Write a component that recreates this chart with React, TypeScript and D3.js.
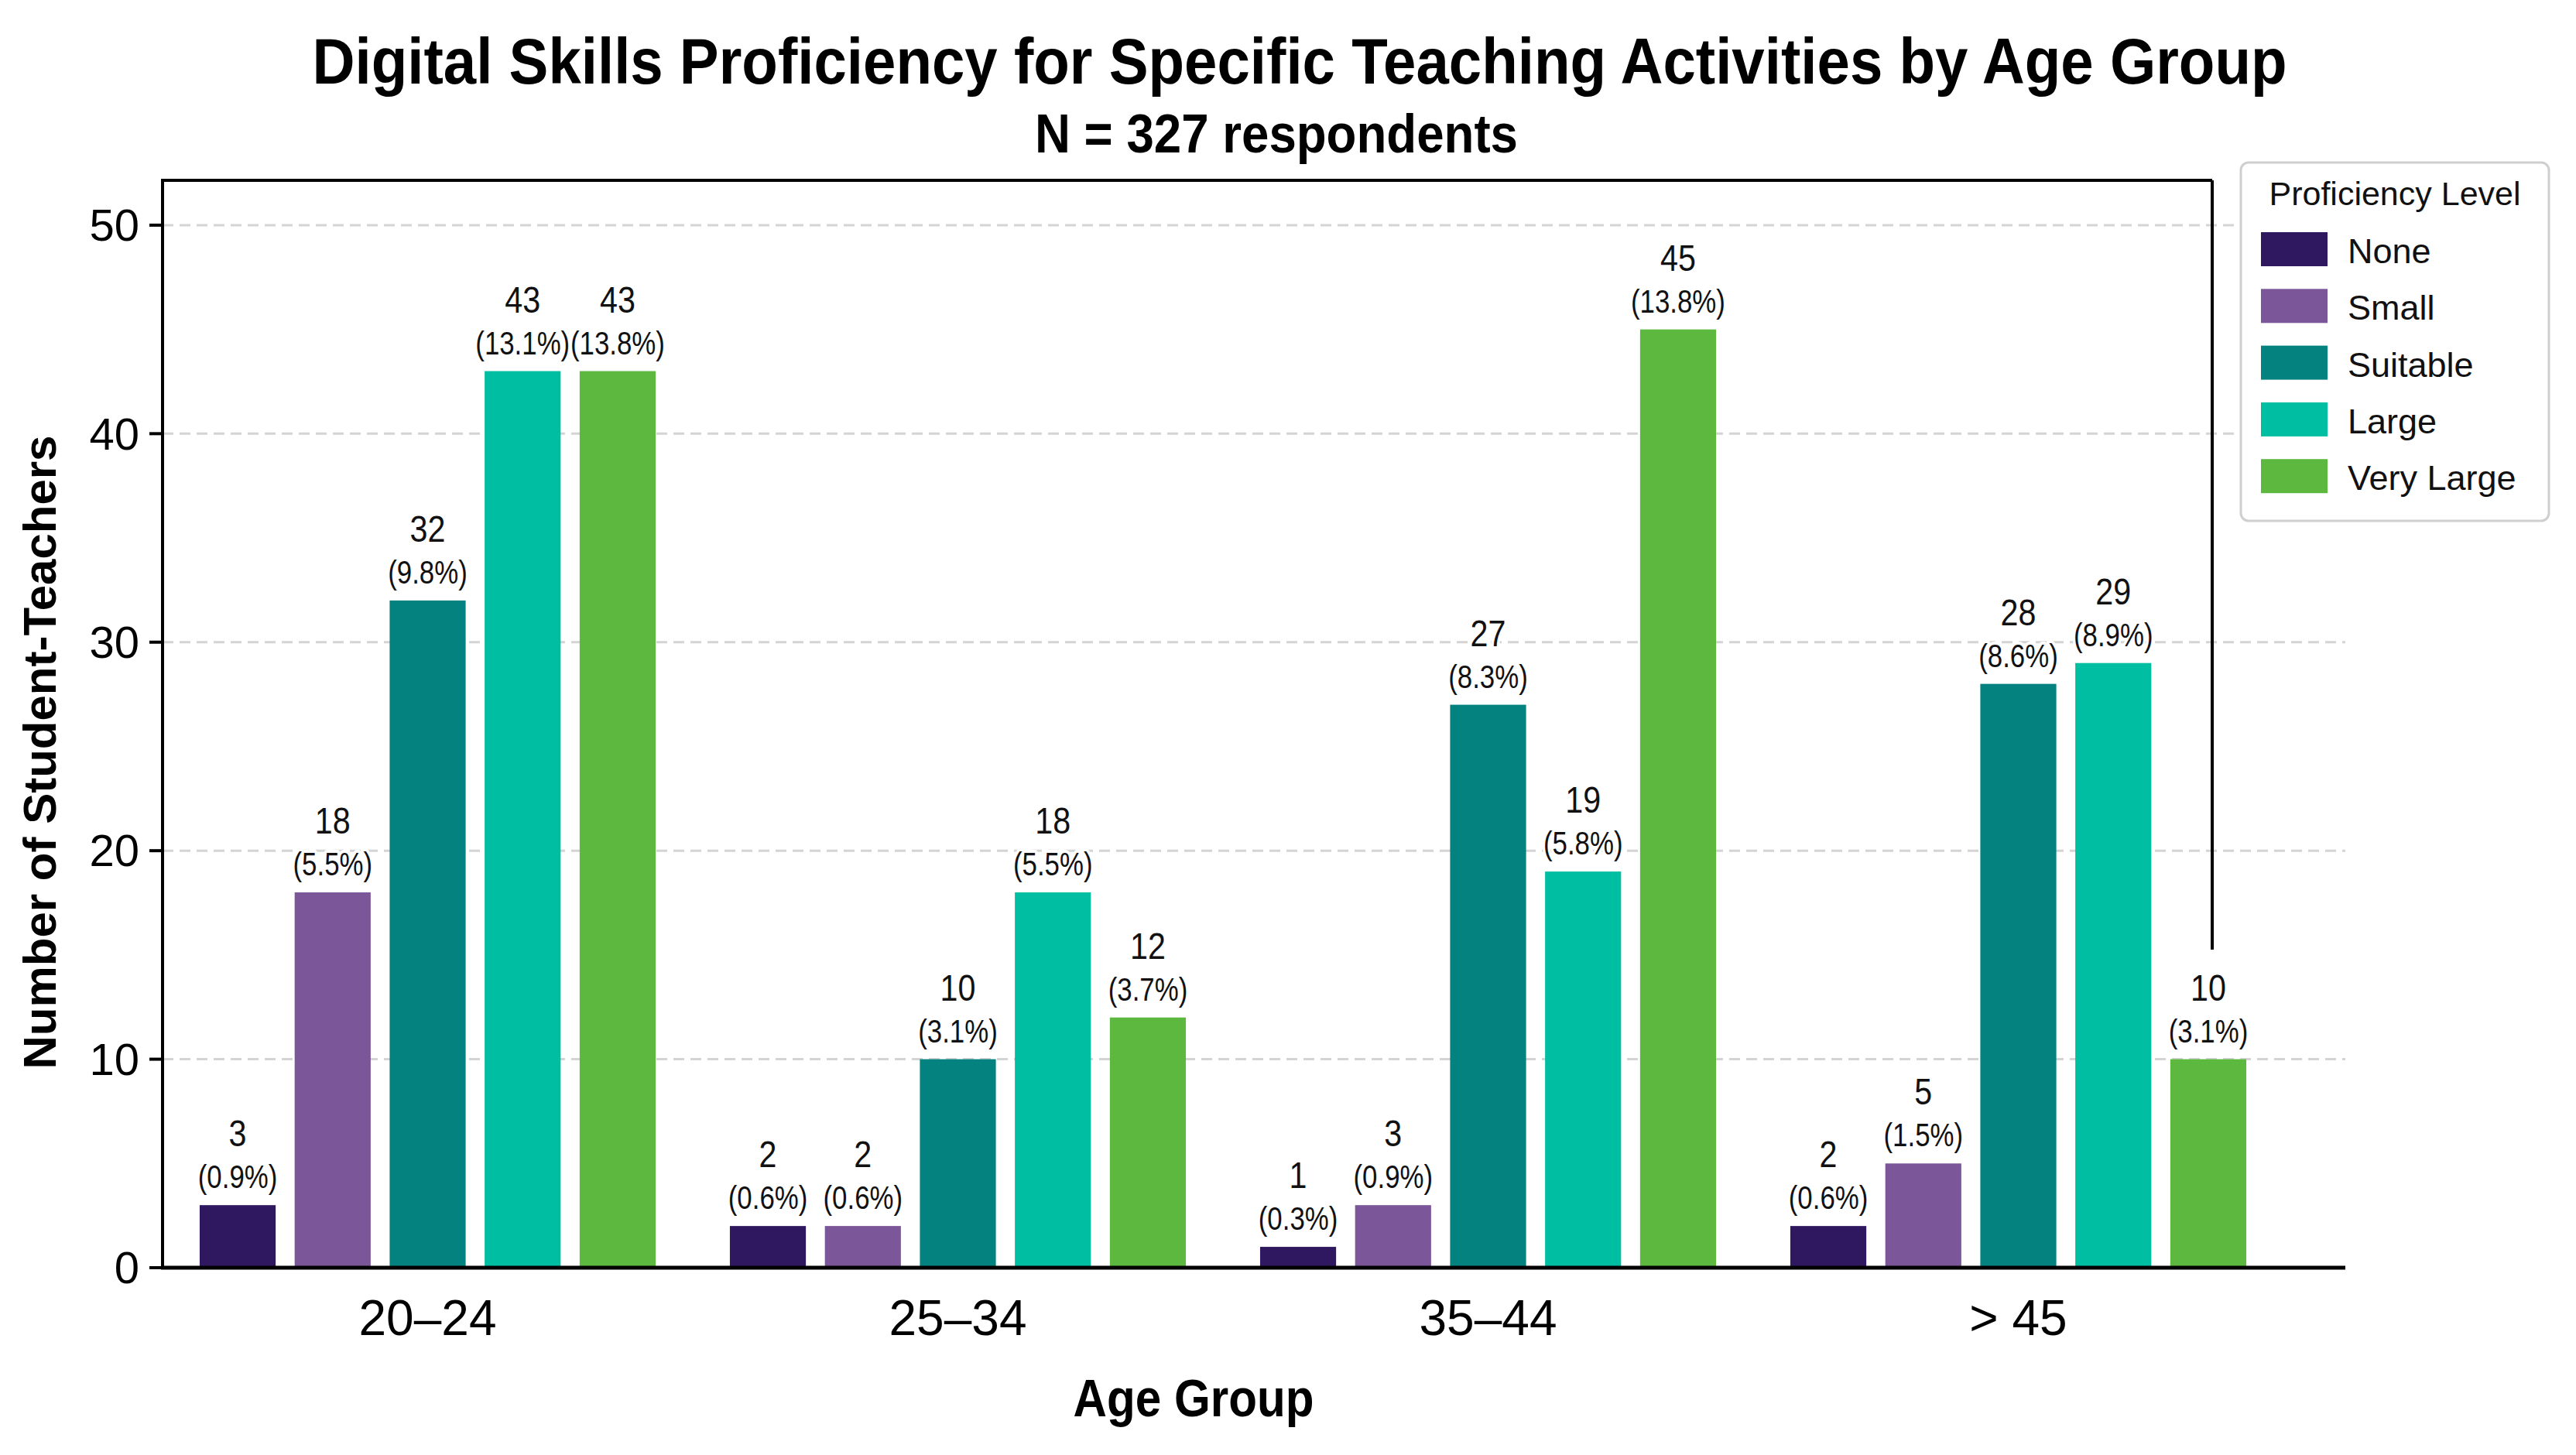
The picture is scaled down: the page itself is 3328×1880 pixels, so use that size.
import React from "react";
import * as d3 from "d3";

const ageGroups = ["20–24", "25–34", "35–44", "> 45"];
const levels = ["None", "Small", "Suitable", "Large", "Very Large"];
const levelColors = ["#301860", "#7b5698", "#03827f", "#00bea2", "#5cb83f"];

const countsNone = [3, 2, 1, 2];
const countsSmall = [18, 2, 3, 5];
const countsSuitable = [32, 10, 27, 28];
const countsLarge = [43, 18, 19, 29];
const countsVeryLarge = [43, 12, 45, 10];

const pctNone = [0.9, 0.6, 0.3, 0.6];
const pctSmall = [5.5, 0.6, 0.9, 1.5];
const pctSuitable = [9.8, 3.1, 8.3, 8.6];
const pctLarge = [13.1, 5.5, 5.8, 8.9];
const pctVeryLarge = [13.8, 3.7, 13.8, 3.1];

const yTicks = [0, 10, 20, 30, 40, 50];
const gridTicks = [10, 20, 30, 40, 50];

const titleText = "Digital Skills Proficiency for Specific Teaching Activities by Age Group";
const subtitleText = "N = 327 respondents";
const xTitle = "Age Group";
const yTitle = "Number of Student-Teachers";
const legendTitle = "Proficiency Level";

const counts = [countsNone, countsSmall, countsSuitable, countsLarge, countsVeryLarge];
const pcts = [pctNone, pctSmall, pctSuitable, pctLarge, pctVeryLarge];

const W = 3328;
const H = 1880;
const FONT = "'Liberation Sans', Arial, Helvetica, sans-serif";

export default function App() {
  const left = 210;
  const frameRight = 2858;
  const axisRight = 3030;
  const top = 233;
  const bottom = 1638;

  const y = d3.scaleLinear().domain([0, 52.15]).range([bottom, top]);
  const x0 = d3
    .scaleBand<string>()
    .domain(ageGroups)
    .range([left, 2950])
    .paddingInner(0.14)
    .paddingOuter(0.07);
  const x1 = d3
    .scaleBand<string>()
    .domain(levels)
    .range([0, x0.bandwidth()])
    .paddingInner(0.2);

  const color = d3.scaleOrdinal<string, string>().domain(levels).range(levelColors);

  const bars: { g: string; l: string; v: number; p: number }[] = [];
  ageGroups.forEach((g, gi) => {
    levels.forEach((l, li) => {
      bars.push({ g, l, v: counts[li][gi], p: pcts[li][gi] });
    });
  });

  const legX = 2895;
  const legY = 210;
  const legW = 398;
  const legH = 463;

  return (
    <svg
      width={W}
      height={H}
      viewBox={`0 0 ${W} ${H}`}
      style={{ position: "absolute", left: 0, top: 0, background: "#fff" }}
      fontFamily={FONT}
    >
      <rect x={0} y={0} width={W} height={H} fill="#fff" />
      {/* Title */}
      <text
        x={1679}
        y={108}
        textAnchor="middle"
        fontSize={84}
        fontWeight="bold"
        textLength={2551}
        lengthAdjust="spacingAndGlyphs"
        fill="#000"
      >
        {titleText}
      </text>
      <text
        x={1649}
        y={197}
        textAnchor="middle"
        fontSize={70}
        fontWeight="bold"
        textLength={624}
        lengthAdjust="spacingAndGlyphs"
        fill="#000"
      >
        {subtitleText}
      </text>

      {/* Gridlines */}
      {gridTicks.map((t) => (
        <line
          key={"g" + t}
          x1={left}
          x2={axisRight}
          y1={y(t)}
          y2={y(t)}
          stroke="#d4d4d4"
          strokeWidth={3}
          strokeDasharray="14 8"
        />
      ))}

      {/* Bars */}
      {bars.map((b, i) => {
        const bx = (x0(b.g) as number) + (x1(b.l) as number);
        return (
          <rect
            key={"b" + i}
            x={bx}
            y={y(b.v)}
            width={x1.bandwidth()}
            height={y(0) - y(b.v)}
            fill={color(b.l)}
          />
        );
      })}

      {/* Value labels */}
      {bars.map((b, i) => {
        const cx = (x0(b.g) as number) + (x1(b.l) as number) + x1.bandwidth() / 2;
        const ty = y(b.v);
        return (
          <g key={"l" + i} textAnchor="middle" fill="#111">
            <text
              transform={`translate(${cx}, ${ty - 76}) scale(0.86, 1)`}
              fontSize={48}
              stroke="#fff"
              strokeWidth={8}
              paintOrder="stroke"
              strokeLinejoin="round"
            >
              {b.v}
            </text>
            <text
              transform={`translate(${cx}, ${ty - 22}) scale(0.81, 1)`}
              fontSize={43}
              stroke="#fff"
              strokeWidth={8}
              paintOrder="stroke"
              strokeLinejoin="round"
            >
              {`(${b.p.toFixed(1)}%)`}
            </text>
          </g>
        );
      })}

      {/* Frame / axes */}
      <line x1={left} x2={frameRight} y1={top} y2={top} stroke="#000" strokeWidth={4} />
      <line x1={frameRight} x2={frameRight} y1={top} y2={1227} stroke="#000" strokeWidth={4} />
      <line x1={left} x2={left} y1={top - 2} y2={bottom + 2} stroke="#000" strokeWidth={4} />
      <line x1={left - 2} x2={axisRight} y1={bottom} y2={bottom} stroke="#000" strokeWidth={5} />

      {/* Y ticks */}
      {yTicks.map((t) => (
        <g key={"yt" + t}>
          <line x1={left - 17} x2={left} y1={y(t)} y2={y(t)} stroke="#000" strokeWidth={4} />
          <text x={left - 30} y={y(t)} dy="0.35em" textAnchor="end" fontSize={58} fill="#000">
            {t}
          </text>
        </g>
      ))}

      {/* X tick labels */}
      {ageGroups.map((g) => (
        <text
          key={"xt" + g}
          x={(x0(g) as number) + x0.bandwidth() / 2}
          y={1725}
          textAnchor="middle"
          fontSize={64}
          fill="#000"
        >
          {g}
        </text>
      ))}

      {/* Axis titles */}
      <text
        x={1542}
        y={1830}
        textAnchor="middle"
        fontSize={68}
        fontWeight="bold"
        textLength={311}
        lengthAdjust="spacingAndGlyphs"
        fill="#000"
      >
        {xTitle}
      </text>
      <text
        transform={`translate(72, 972) rotate(-90)`}
        textAnchor="middle"
        fontSize={60}
        fontWeight="bold"
        fill="#000"
      >
        {yTitle}
      </text>

      {/* Legend */}
      <rect
        x={legX}
        y={legY}
        width={legW}
        height={legH}
        rx={10}
        ry={10}
        fill="#fff"
        stroke="#cfcfcf"
        strokeWidth={3}
      />
      <text x={legX + legW / 2} y={265} textAnchor="middle" fontSize={43} fill="#111">
        {legendTitle}
      </text>
      {levels.map((l, i) => (
        <g key={"lg" + l}>
          <rect x={2921} y={300 + i * 73.3} width={86} height={44} fill={color(l)} />
          <text x={3033} y={340 + i * 73.3} fontSize={45} fill="#111">
            {l}
          </text>
        </g>
      ))}
    </svg>
  );
}
